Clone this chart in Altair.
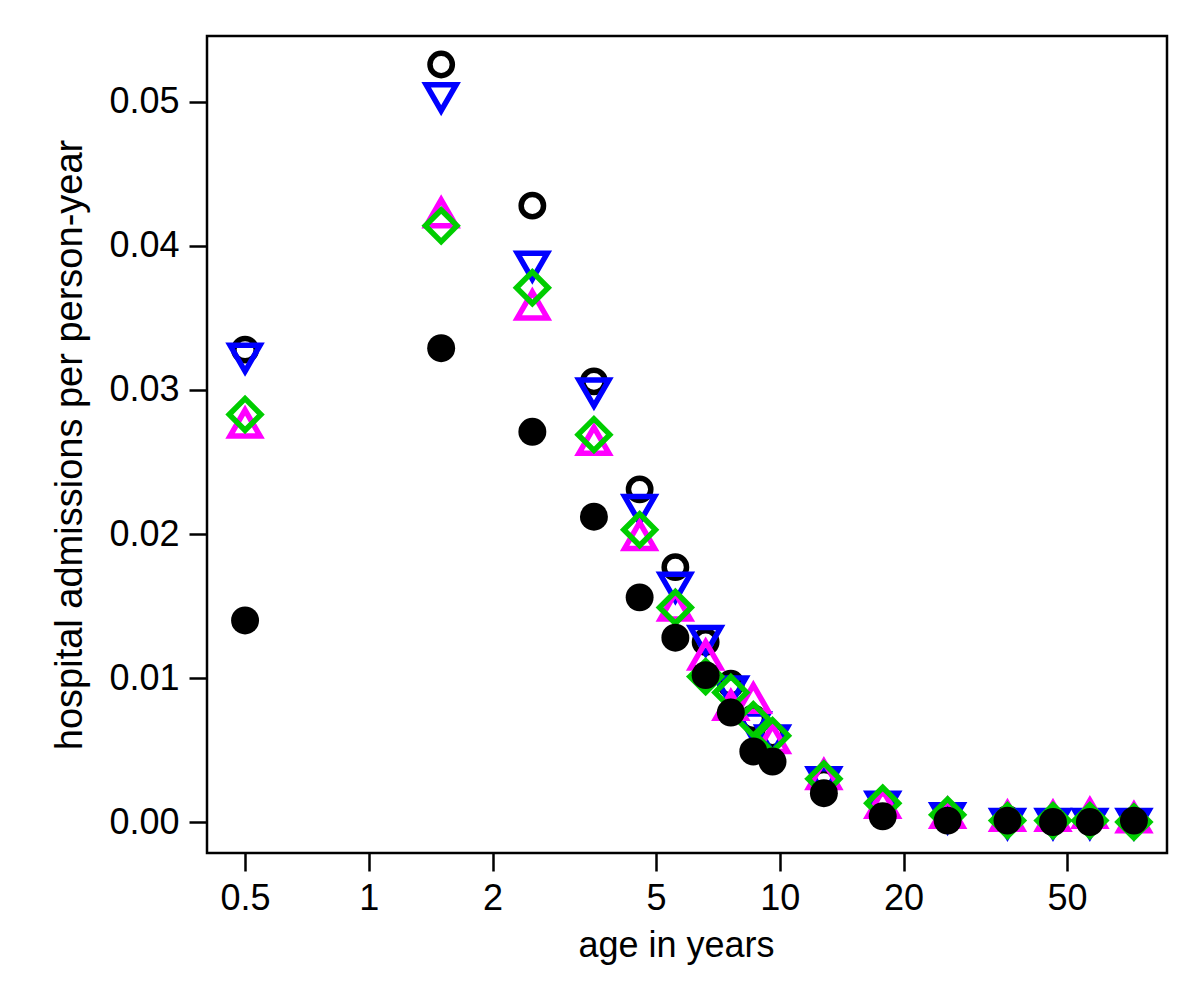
import altair as alt
import pandas as pd

ages = [0.5, 1.5, 2.5, 3.53, 4.56, 5.57, 6.6, 7.6, 8.62, 9.6, 12.8, 17.8, 25.6, 35.8, 46.2, 56.8, 72.7]

open_circle = [0.0328, 0.0526, 0.0428, 0.0306, 0.0231, 0.0177, 0.0125, 0.0096, 0.0072, 0.0060,
               0.0028, 0.0012, 0.0005, 0.0002, 0.0001, 0.0001, 0.0001]
blue_down = [0.0325, 0.0506, 0.0389, 0.0301, 0.0220, 0.0166, 0.0129, 0.0094, 0.0069, 0.0060,
             0.0031, 0.0014, 0.0006, 0.0002, 0.0002, 0.0002, 0.0002]
magenta_up = [0.0274, 0.0420, 0.0356, 0.0262, 0.0196, 0.0147, 0.0113, 0.0078, 0.0083, 0.0055,
              0.0030, 0.0010, 0.0003, 0.0001, 0.0001, 0.0003, 0.0000]
green_diamond = [0.0283, 0.0414, 0.0371, 0.0269, 0.0203, 0.0149, 0.0101, 0.0090, 0.0071, 0.0060,
                 0.0030, 0.0013, 0.0005, 0.0001, 0.0001, 0.0001, 0.0000]
black_filled = [0.0140, 0.0329, 0.0271, 0.0212, 0.0156, 0.0128, 0.0102, 0.0076, 0.0049, 0.0042,
                0.0020, 0.0004, 0.0001, 0.0001, 0.0000, 0.0000, 0.0001]

x_ticks = [0.5, 1, 2, 5, 10, 20, 50]
y_ticks = [0.0, 0.01, 0.02, 0.03, 0.04, 0.05]

TRI_UP = "M0,-1.155L1,0.577L-1,0.577Z"
TRI_DOWN = "M0,1.155L1,-0.577L-1,-0.577Z"

FONT = "Liberation Sans"

xscale = alt.Scale(type="log", domain=[0.404, 87.5], nice=False)
yscale = alt.Scale(domain=[-0.00215, 0.05458], nice=False, zero=False)

xaxis = alt.Axis(values=x_ticks, format="~g", title="age in years", grid=False, domain=False,
                 tickColor="black", tickWidth=2.5, tickSize=18, labelFontSize=36, labelFont=FONT,
                 labelColor="black", labelPadding=10, titleFontSize=36, titleFont=FONT,
                 titleFontWeight="normal", titleColor="black", titlePadding=12, titleX=469,
                 labelFlush=False)
yaxis = alt.Axis(values=y_ticks, format=".2f", title="hospital admissions per person-year",
                 grid=False, domain=False, tickColor="black", tickWidth=2.5, tickSize=18,
                 labelFontSize=36, labelFont=FONT, labelColor="black", labelPadding=10,
                 titleFontSize=38, titleFont=FONT, titleFontWeight="normal", titleColor="black",
                 titlePadding=19, labelFlush=False)


def layer(vals, shape, color, size, filled):
    df = pd.DataFrame({"age": ages, "rate": vals})
    if filled:
        mk = dict(shape=shape, filled=True, color=color, size=size, opacity=1)
    else:
        mk = dict(shape=shape, filled=False, color=color, size=size, strokeWidth=5.5, opacity=1)
    return alt.Chart(df).mark_point(**mk).encode(
        x=alt.X("age:Q", scale=xscale, axis=xaxis),
        y=alt.Y("rate:Q", scale=yscale, axis=yaxis),
    )


chart = alt.layer(
    layer(open_circle, "circle", "black", 500, False),
    layer(blue_down, TRI_DOWN, "#0000FF", 900, False),
    layer(magenta_up, TRI_UP, "#FF00FF", 900, False),
    layer(green_diamond, "diamond", "#00CD00", 1000, False),
    layer(black_filled, "circle", "black", 780, True),
).properties(
    width=960, height=817,
    autosize=alt.AutoSizeParams(type="none"),
    padding={"left": 199, "top": 28, "right": 25, "bottom": 135},
    background="white",
).configure_view(stroke="black", strokeWidth=2.5)

chart.save("out.html", embed_options={"renderer": "svg", "actions": False})
